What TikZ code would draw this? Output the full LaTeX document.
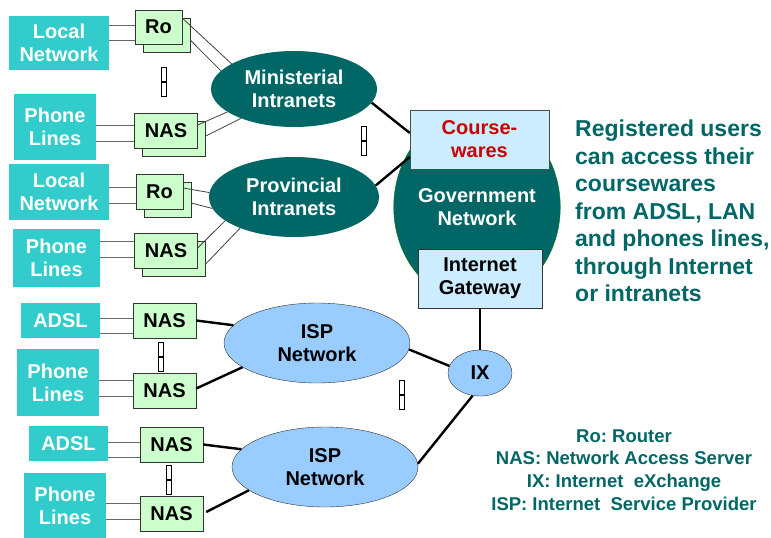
\documentclass[tikz,border=0pt]{standalone}
\usepackage{fontspec}
\setmainfont{Liberation Sans}
\usetikzlibrary{shapes.geometric, shadows}

\definecolor{lanteal}{HTML}{33CCCC}
\definecolor{darkteal}{HTML}{006666}
\definecolor{nasgreen}{HTML}{CCFFCC}
\definecolor{paleblue}{HTML}{CCECFF}
\definecolor{ispblue}{HTML}{99CCFF}
\definecolor{coursered}{HTML}{CC0000}

\begin{document}
\frenchspacing
\begin{tikzpicture}[x=1pt,y=-1pt,font=\bfseries\fontsize{20}{23}\selectfont]
\tikzstyle{access} = [rectangle, fill=lanteal, text=white, align=center, inner sep=0pt]
\tikzstyle{server} = [rectangle, draw=black!80, fill=nasgreen, minimum width=63pt, minimum height=35pt, inner sep=0pt]
\tikzstyle{stacked} = [server, copy shadow={shadow xshift=8pt, shadow yshift=-8pt}]
\tikzstyle{intranet} = [ellipse, fill=darkteal, text=white, align=center, inner sep=0pt]
\tikzstyle{isp} = [ellipse, draw=black!80, fill=ispblue, align=center, inner sep=0pt]
\tikzstyle{govbox} = [rectangle, draw=black!70, fill=paleblue, align=center, inner sep=0pt]
\tikzstyle{wire} = [gray!80!black, line width=1pt]
\tikzstyle{link} = [black!75, line width=0.8pt]
\tikzstyle{trunk} = [black, line width=2.4pt]
\tikzstyle{cut} = [rectangle, draw, line width=1.3pt, fill=white, minimum width=5pt, minimum height=29pt, inner sep=0pt, path picture={\draw[line width=1.3pt] (path picture bounding box.west) -- (path picture bounding box.east);}]
\tikzstyle{note} = [text=darkteal, inner sep=0pt]

\useasboundingbox (0,0) rectangle (771,538);

% networks
\node (mini) [intranet, minimum width=166pt, minimum height=76pt] at (294,89) {Ministerial\\Intranets};
\node (prov) [intranet, minimum width=170pt, minimum height=80pt] at (294,197) {Provincial\\Intranets};
\node (gov) [ellipse, draw=green!50!black, fill=darkteal, text=white, align=center, minimum width=140pt, minimum height=192pt, inner sep=0pt] at (477,207) {Government\\Network};
\node (course) [govbox, text=coursered, minimum width=139pt, minimum height=59pt] at (479.5,139.5) {Course-\\wares};
\node (gate) [govbox, draw=black!80, minimum width=124pt, minimum height=59pt] at (480,278.5) {Internet\\Gateway};
\node (ix) [isp, minimum width=64pt, minimum height=46pt] at (480,373) {IX};
\node (isp1) [isp, minimum width=186pt, minimum height=80pt] at (317,343) {ISP\\Network};
\node (isp2) [isp, minimum width=186pt, minimum height=80pt] at (325,467) {ISP\\Network};

% access side
\node (ln1) [access, minimum width=100pt, minimum height=54pt] at (59,43) {Local\\Network};
\node (ro1) [stacked, minimum width=47pt, minimum height=34pt] at (158.5,27) {Ro};
\node (ph1) [access, minimum width=82pt, minimum height=66pt] at (55,127) {Phone\\Lines};
\node (nas1) [stacked] at (166,131) {NAS};
\node (ln2) [access, minimum width=100pt, minimum height=56pt] at (59,192) {Local\\Network};
\node (ro2) [stacked, minimum width=47pt, minimum height=35pt] at (159.5,191.5) {Ro};
\node (ph2) [access, minimum width=87pt, minimum height=58pt] at (56.5,258) {Phone\\Lines};
\node (nas2) [stacked] at (166,250.5) {NAS};
\node (adsl1) [access, minimum width=79pt, minimum height=35pt] at (60.5,320.5) {ADSL};
\node (nasA) [server] at (164.5,320.5) {NAS};
\node (ph3) [access, minimum width=82pt, minimum height=67pt] at (58,382.5) {Phone\\Lines};
\node (nasB) [server] at (164.5,390.5) {NAS};
\node (adsl2) [access, minimum width=79pt, minimum height=35pt] at (68.5,443.5) {ADSL};
\node (nasC) [server] at (171.5,444.5) {NAS};
\node (ph4) [access, minimum width=82pt, minimum height=65pt] at (65,505.5) {Phone\\Lines};
\node (nasD) [server] at (171.5,513.5) {NAS};

% "and so on" marks
\node (cut1) [cut] at (164,82) {};
\node (cut2) [cut] at (364,141) {};
\node (cut3) [cut] at (161,357) {};
\node (cut4) [cut] at (402,395) {};
\node (cut5) [cut] at (169,480) {};

% texts
\node (info) [note, anchor=north west, align=left, font=\bfseries\fontsize{23}{27.5}\selectfont] at (575,120) {Registered users\\can access their\\coursewares\\from ADSL, LAN\\and phones lines,\\through Internet\\or intranets};
\node (legend) [note, align=center, font=\bfseries\fontsize{18.5}{22.7}\selectfont] at (624,470) {Ro: Router\\NAS: Network Access Server\\IX: Internet\ \ eXchange\\ISP: Internet\ \ Service Provider};

% lines into the routers and servers
\foreach \a/\b/\s in {ln1/ro1/2, ln1/ro1/-13, ph1/nas1/6, ph1/nas1/-10, ln2/ro2/4.5, ln2/ro2/-11.5, ph2/nas2/9.5, ph2/nas2/-6.5, adsl1/nasA/2.5, adsl1/nasA/-12.5, ph3/nasB/10.5, ph3/nasB/-5.5, adsl2/nasC/2.5, adsl2/nasC/-12.5, ph4/nasD/10.5, ph4/nasD/-5.5}
  \draw [wire] ([yshift=\s pt]\b.west) -- ([yshift=\s pt]\b.west -| \a.east);

\draw [link] ([yshift=9pt]ro1.east) -- (mini.158);
\draw [link] ([xshift=8pt,yshift=-13pt]ro1.east) -- (mini.166);
\draw [link] ([yshift=6pt]nas1.east) -- (mini.199);
\draw [link] ([xshift=8pt,yshift=-5pt]nas1.east) -- (mini.209);
\draw [link] ([yshift=3.5pt]ro2.east) -- (prov.177);
\draw [link] ([xshift=8pt,yshift=-11.5pt]ro2.east) -- (prov.188);
\draw [link] ([yshift=2.5pt]nas2.east) -- (prov.199);
\draw [link] ([xshift=8pt,yshift=-13.5pt]nas2.east) -- (prov.210);

\draw [trunk] (mini.-10) -- ([yshift=6.5pt]course.west);
\draw [trunk] (prov.8) -- ([yshift=-17.5pt]course.west);
\draw [trunk] (gate) -- (ix);
\draw [trunk] (isp1.-4) -- (ix.167);
\draw [trunk] (isp2.2) -- (ix.252);
\draw [trunk] (nasA.east) -- (isp1.168);
\draw [trunk] ([yshift=2pt]nasB.east) -- (isp1.198);
\draw [trunk] (nasC.east) -- (isp2.168);
\draw [trunk] ([xshift=3pt,yshift=1.5pt]nasD.east) -- (isp2.197);

\end{tikzpicture}
\end{document}
